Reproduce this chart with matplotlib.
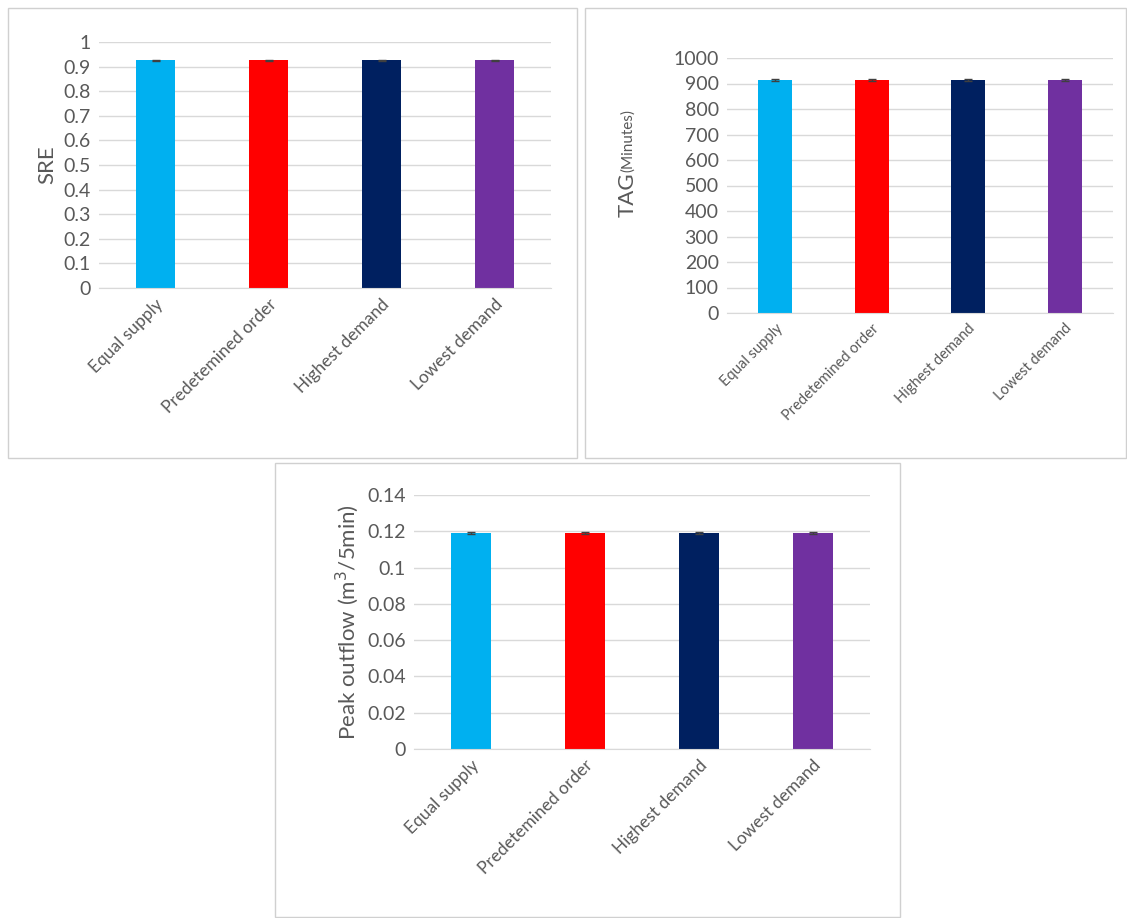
import matplotlib.pyplot as plt
from matplotlib.patches import Rectangle

plt.rcParams['font.family'] = ['Lato', 'DejaVu Sans']

cats = ["Equal supply", "Predetemined order", "Highest demand", "Lowest demand"]
colors = ["#00b0f0", "#ff0000", "#002060", "#7030a0"]
sre = [0.925, 0.925, 0.925, 0.925]
sre_err = [0.003, 0.003, 0.003, 0.003]
tag = [915, 915, 915, 915]
tag_err = [4, 4, 4, 4]
peak = [0.119, 0.119, 0.119, 0.119]
peak_err = [0.0004, 0.0004, 0.0004, 0.0004]

W, H = 1127, 918
fig = plt.figure(figsize=(W / 100, H / 100), dpi=100)
gray = "#595959"


def px_axes(x0, x1, ytop, ybot):
    return fig.add_axes([x0 / W, 1 - ybot / H, (x1 - x0) / W, (ybot - ytop) / H])


def panel(ax, vals, errs, ymax, step, ysize, xsize):
    ax.bar(range(4), vals, width=0.35, color=colors, zorder=2)
    ax.errorbar(range(4), vals, yerr=errs, fmt="none", ecolor="#404040",
                capsize=3, elinewidth=1, zorder=3)
    ax.set_xlim(-0.5, 3.5)
    ax.set_ylim(0, ymax)
    ticks = [i * step for i in range(int(round(ymax / step)) + 1)]
    ax.set_yticks(ticks)
    ax.set_yticklabels(["%g" % round(t, 4) for t in ticks], fontsize=ysize, color=gray)
    ax.set_xticks(range(4))
    ax.set_xticklabels(cats, rotation=45, ha="right", rotation_mode="anchor",
                       fontsize=xsize, color=gray)
    ax.grid(axis="y", color="#d9d9d9", lw=1, zorder=0)
    for s in ["top", "right", "left"]:
        ax.spines[s].set_visible(False)
    ax.spines["bottom"].set_color("#d9d9d9")
    ax.tick_params(length=0, pad=6)


# panel borders
for x0, y0, x1, y1 in [(8, 8, 577, 458), (585, 8, 1126, 458), (275, 463, 900, 917)]:
    fig.add_artist(Rectangle((x0 / W, 1 - y1 / H), (x1 - x0) / W, (y1 - y0) / H,
                             transform=fig.transFigure, fill=False,
                             edgecolor="#d0d0d0", lw=1))

ax1 = px_axes(99, 551, 42, 288)
panel(ax1, sre, sre_err, 1.0, 0.1, 14, 12.5)
ax1.set_ylabel("SRE", fontsize=16, color=gray)

ax2 = px_axes(727, 1113, 58, 313)
panel(ax2, tag, tag_err, 1000, 100, 14, 10.5)
fig.text(628 / W, 1 - 195 / H, "TAG", rotation=90, fontsize=16, color=gray,
         ha="center", va="center")
fig.text(628 / W, 1 - 140 / H, "(Minutes)", rotation=90, fontsize=11, color=gray,
         ha="center", va="center")

ax3 = px_axes(414, 870, 495, 749)
panel(ax3, peak, peak_err, 0.14, 0.02, 14, 12.5)
ax3.set_ylabel("Peak outflow (m$^3$/5min)", fontsize=16, color=gray)

fig.savefig("out.png", dpi=100)
